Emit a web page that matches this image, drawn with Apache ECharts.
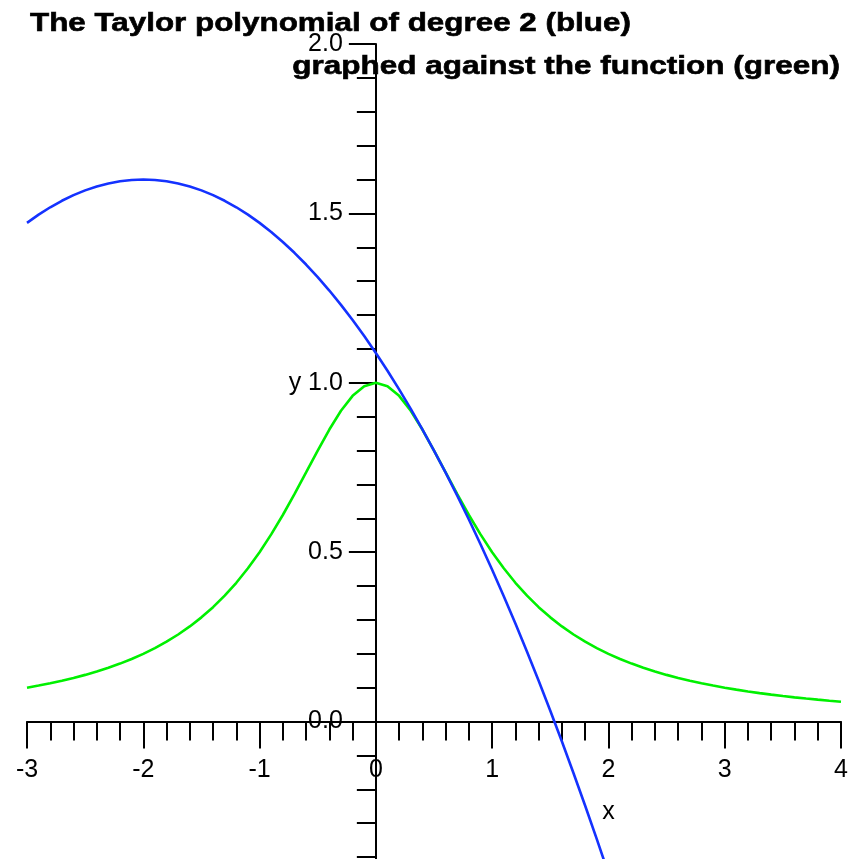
<!DOCTYPE html>
<html>
<head>
<meta charset="utf-8">
<script src="https://cdn.jsdelivr.net/npm/echarts@6/dist/echarts.min.js"></script>
<style>
html,body{margin:0;padding:0;background:#fff;}
#c{width:851px;height:859px;}
</style>
</head>
<body>
<div id="c"></div>
<script>
var titleLine1 = 'The Taylor polynomial of degree 2 (blue)';
var titleLine2 = 'graphed against the function (green)';
var xValues = [-3,-2.9,-2.8,-2.7,-2.6,-2.5,-2.4,-2.3,-2.2,-2.1,-2,-1.9,-1.8,-1.7,-1.6,-1.5,-1.4,-1.3,-1.2,-1.1,-1,-0.9,-0.8,-0.7,-0.6,-0.5,-0.4,-0.3,-0.2,-0.1,0,0.1,0.2,0.3,0.4,0.5,0.6,0.7,0.8,0.9,1,1.1,1.2,1.3,1.4,1.5,1.6,1.7,1.8,1.9,2,2.1,2.2,2.3,2.4,2.5,2.6,2.7,2.8,2.9,3,3.1,3.2,3.3,3.4,3.5,3.6,3.7,3.8,3.9,4];
var greenValues = [0.1,0.1063,0.1131,0.1206,0.1289,0.1379,0.1479,0.1590,0.1712,0.1848,0.2,0.2169,0.2358,0.2571,0.2809,0.3077,0.3378,0.3717,0.4098,0.4525,0.5,0.5525,0.6098,0.6711,0.7353,0.8,0.8621,0.9174,0.9615,0.9901,1,0.9901,0.9615,0.9174,0.8621,0.8,0.7353,0.6711,0.6098,0.5525,0.5,0.4525,0.4098,0.3717,0.3378,0.3077,0.2809,0.2571,0.2358,0.2169,0.2,0.1848,0.1712,0.1590,0.1479,0.1379,0.1289,0.1206,0.1131,0.1063,0.1,0.0943,0.0890,0.0841,0.0796,0.0755,0.0716,0.0681,0.0648,0.0617,0.0588];
var blueX = [-3,-2.9,-2.8,-2.7,-2.6,-2.5,-2.4,-2.3,-2.2,-2.1,-2,-1.9,-1.8,-1.7,-1.6,-1.5,-1.4,-1.3,-1.2,-1.1,-1,-0.9,-0.8,-0.7,-0.6,-0.5,-0.4,-0.3,-0.2,-0.1,0,0.1,0.2,0.3,0.4,0.5,0.6,0.7,0.8,0.9,1,1.1,1.2,1.3,1.4,1.5,1.6,1.7,1.8,1.9,2,2.1];
var blueValues = [1.472,1.4963,1.5181,1.5373,1.5539,1.568,1.5795,1.5885,1.5949,1.5987,1.6,1.5987,1.5949,1.5885,1.5795,1.568,1.5539,1.5373,1.5181,1.4963,1.472,1.4451,1.4157,1.3837,1.3491,1.312,1.2723,1.2301,1.1853,1.1379,1.088,1.0355,0.9805,0.9229,0.8627,0.8,0.7347,0.6669,0.5965,0.5235,0.448,0.3699,0.2893,0.2061,0.1203,0.032,-0.0589,-0.1523,-0.2483,-0.3469,-0.448,-0.5517];
var xTickLabels = {'-3':'-3','-2':'-2','-1':'-1','0':'0','1':'1','2':'2\n\nx','3':'3','4':'4'};
var yTickLabels = {'-0.5':'','0':'0.0','0.5':'0.5','1':'y 1.0','1.5':'1.5','2':'2.0'};
var xMin = -3, xMax = 4, yMin = -0.5, yMax = 2;

function pairs(xs, ys){ return xs.map(function(x,i){return [x, ys[i]];}); }

var W = 851, H = 859;
var gridL = 27, gridR = 10, gridT = 44, gridB = -32;
var gridW = W - gridL - gridR, gridH = H - gridT - gridB;
// move axes to cross at zero, derived from the axis ranges
var xAxisOffset = -((0 - yMin) / (yMax - yMin)) * gridH;
var yAxisOffset = -((0 - xMin) / (xMax - xMin)) * gridW;

var font = 'Liberation Sans, Arial, sans-serif';
var chart = echarts.init(document.getElementById('c'), null, {renderer:'canvas'});
chart.setOption({
  animation:false,
  backgroundColor:'#ffffff',
  graphic:[
    {type:'text', x:30, y:12, scaleX:1.255, scaleY:1, z:100,
      style:{text:titleLine1, fontFamily:font, fontWeight:'bold', fontSize:25, fill:'#000', stroke:'#000', lineWidth:0.6, align:'left', verticalAlign:'top'}},
    {type:'text', x:840, y:55, scaleX:1.26, scaleY:1, z:100,
      style:{text:titleLine2, fontFamily:font, fontWeight:'bold', fontSize:25, fill:'#000', stroke:'#000', lineWidth:0.6, align:'right', verticalAlign:'top'}}
  ],
  grid:{left:gridL, right:gridR, top:gridT, bottom:gridB, containLabel:false, outerBoundsMode:'none'},
  xAxis:{
    type:'value', min:xMin, max:xMax, interval:1, position:'bottom', offset:xAxisOffset,
    axisLine:{show:true, onZero:false, lineStyle:{color:'#000', width:2}},
    axisTick:{show:true, length:27, lineStyle:{color:'#000', width:2}},
    minorTick:{show:true, splitNumber:5, length:19, lineStyle:{color:'#000', width:2}},
    splitLine:{show:false}, minorSplitLine:{show:false},
    axisLabel:{margin:38, fontFamily:font, fontSize:25, color:'#000', lineHeight:21,
      formatter:function(v){ var k=String(v); return xTickLabels[k]!==undefined?xTickLabels[k]:k; }}
  },
  yAxis:{
    type:'value', min:yMin, max:yMax, interval:0.5, position:'left', offset:yAxisOffset,
    axisLine:{show:true, onZero:false, lineStyle:{color:'#000', width:2}},
    axisTick:{show:true, length:27, lineStyle:{color:'#000', width:2}},
    minorTick:{show:true, splitNumber:5, length:19, lineStyle:{color:'#000', width:2}},
    splitLine:{show:false}, minorSplitLine:{show:false},
    axisLabel:{margin:33, fontFamily:font, fontSize:25, color:'#000',
      formatter:function(v){ var k=String(v); return yTickLabels[k]!==undefined?yTickLabels[k]:k; }}
  },
  series:[
    {type:'line', data:pairs(xValues, greenValues), smooth:false, showSymbol:false, symbol:'none',
      lineStyle:{color:'#00f000', width:2.6}, z:3},
    {type:'line', data:pairs(blueX, blueValues), smooth:false, showSymbol:false, symbol:'none',
      lineStyle:{color:'#1432ff', width:2.6}, z:4}
  ]
});
</script>
</body>
</html>
